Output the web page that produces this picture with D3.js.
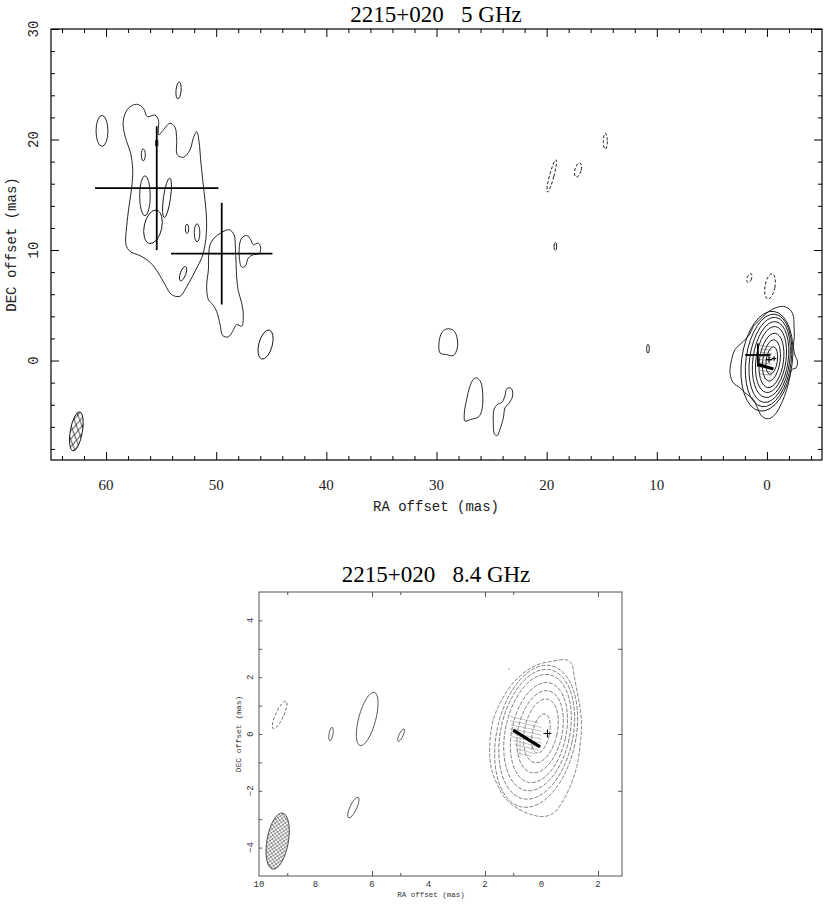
<!DOCTYPE html>
<html><head><meta charset="utf-8">
<script src="https://cdn.jsdelivr.net/npm/d3@7"></script>
<style>body{margin:0;background:#fff}svg{display:block}</style>
</head><body><svg id="c" width="830" height="904"></svg>
<script>
// ================= DATA =================
const topTitle = "2215+020   5 GHz";
const botTitle = "2215+020   8.4 GHz";
const xLabelText = "RA offset (mas)";
const yLabelText = "DEC offset (mas)";

// top panel (5 GHz) axes
const topXMajor = [60, 50, 40, 30, 20, 10, 0];
const topXMinor = [64,62,58,56,54,52,48,46,44,42,38,36,34,32,28,26,24,22,18,16,14,12,8,6,4,2,-2,-4];
const topYMajor = [0, 10, 20, 30];
const topYMinor = [-8,-6,-4,-2,2,4,6,8,12,14,16,18,22,24,26,28];

// bottom panel (8.4 GHz) axes
const botXLabels = [10, 8, 6, 4, 2, 0, -2];
const botXLabelText = ["10", "8", "6", "4", "2", "0", "2"];
const botXMajor = [6, 2, -2];
const botXMinor = [9, 5, 1];
const botYLabels = [4, 2, 0, -2, -4];
const botYLabelText = ["4", "2", "0", "\u22122", "\u22124"];
const botYTicksLeft = [4, 3, 2, 1, 0, -1, -2, -3, -4];
const botYTicksRight = [3, 0, -2];

// --- 5 GHz contours: closed outlines [RA, DEC] in mas ---
const topCluster1 = [[58.43,21.77],[57.98,22.83],[57.22,23.19],[56.62,22.83],[56.25,22.07],[55.56,22.22],[55.25,21.77],[55.22,20.42],[54.80,20.87],[54.20,21.47],[53.74,21.11],[53.59,19.97],[53.53,18.61],[52.98,18.40],[52.38,19.06],[52.08,20.12],[51.77,20.72],[51.56,19.82],[51.41,18.16],[51.23,16.35],[50.99,14.25],[50.87,12.44],[50.99,10.63],[51.32,9.28],[51.77,8.37],[52.23,7.47],[52.74,6.57],[53.29,5.81],[54.04,5.96],[54.65,6.87],[55.25,7.92],[56.01,8.89],[56.92,9.49],[57.83,9.88],[58.19,10.48],[58.13,12.14],[57.92,13.94],[57.68,15.60],[57.58,17.26],[57.77,18.76],[58.13,19.82],[58.37,20.72]];
const topCluster2 = [[50.56,10.48],[50.20,11.08],[49.59,11.54],[48.81,11.84],[48.38,11.38],[48.26,10.18],[48.20,8.83],[48.14,7.47],[47.99,6.27],[47.69,5.21],[47.54,4.01],[47.69,3.10],[48.14,3.25],[48.50,2.65],[48.90,2.14],[49.41,2.26],[49.65,3.25],[49.96,4.46],[50.32,5.06],[50.71,5.51],[50.87,6.72],[50.71,8.22],[50.68,9.58]];
const topSideLoop = [[47.90,10.33],[47.69,11.08],[47.23,11.32],[46.87,10.93],[46.63,10.48],[46.17,10.63],[45.96,10.18],[46.11,9.67],[46.63,9.58],[47.08,9.28],[47.38,8.52],[47.69,8.46],[47.90,9.28]];
const topBlobA = [[29.53,2.50],[29.08,2.86],[28.47,2.74],[28.17,2.20],[28.11,1.14],[28.47,0.45],[29.08,0.54],[29.68,0.69],[29.77,1.60]];
const topBlobB = [[26.35,-1.57],[25.99,-1.93],[25.81,-2.92],[25.87,-4.43],[26.17,-5.09],[26.90,-5.33],[27.41,-5.48],[27.47,-4.73],[27.26,-3.52],[26.96,-2.32],[26.66,-1.72]];
const topBlobC = [[23.48,-2.47],[23.18,-2.56],[23.09,-3.22],[23.39,-3.83],[23.78,-4.28],[23.93,-5.18],[24.24,-6.23],[24.48,-6.78],[24.72,-6.69],[24.84,-5.63],[24.78,-4.43],[24.48,-3.98],[24.05,-3.77],[23.78,-3.16],[23.66,-2.62]];
const topCoreOuter = [[0.78,3.55],[0.02,4.30],[-0.74,4.75],[-1.49,4.90],[-2.10,4.60],[-2.40,4.00],[-2.46,3.10],[-2.49,2.19],[-2.40,1.29],[-2.58,0.39],[-2.77,-0.06],[-2.64,-0.67],[-2.25,-0.82],[-2.10,-1.42],[-1.80,-2.62],[-1.34,-3.83],[-0.74,-4.88],[-0.13,-5.27],[0.47,-5.03],[0.93,-4.13],[1.23,-3.53],[1.99,-2.92],[2.44,-2.47],[3.05,-2.02],[3.35,-1.12],[3.20,0.09],[2.90,0.99],[2.14,1.74],[1.59,2.34],[1.23,3.10]];

// ellipse contours [RA, DEC, semi-axis RA, semi-axis DEC, tilt deg]
const topEllSolid = [[60.37,20.78,0.54,1.40,0],[53.42,24.44,0.23,0.77,5],[56.62,18.61,0.18,0.54,0],[56.47,14.91,0.48,1.81,0],[54.47,14.72,0.32,1.81,8],[55.74,12.10,0.80,1.54,12],[52.65,11.92,0.15,0.42,0],[51.74,11.56,0.25,0.81,0],[53.01,7.86,0.25,0.68,20],[45.52,1.45,0.61,1.36,15],[55.40,19.67,0.12,0.35,0],[19.21,10.33,0.12,0.36,0],[10.80,1.08,0.12,0.40,0]];
const topEllDashed = [[14.67,19.84,0.18,0.72,0],[17.15,17.25,0.28,0.66,15],[19.54,16.71,0.20,1.50,15],[1.59,7.46,0.20,0.42,20],[-0.28,6.71,0.45,1.15,10]];
const topCoreNested = [[-0.44,0.00,0.51,1.25,8],[-0.41,0.01,0.79,1.88,8],[-0.41,0.01,1.09,2.48,8],[-0.37,0.09,1.36,3.01,8],[-0.33,0.09,1.60,3.46,8],[-0.25,0.06,1.82,3.88,8],[-0.15,0.01,2.05,4.22,8],[0.00,-0.06,2.30,4.55,8]];
const topBeam = [62.70,-6.41,0.55,1.80,10];

// model-fit components [RA, DEC, RA err, DEC err]
const topComps = [[55.4,15.6,5.6,5.6],[49.5,9.67,4.6,4.6],[0.82,0.50,1.15,1.05]];
const topSmallCross = [[-0.19,0.09,0.30],[-0.65,0.18,0.20]];
const topThick = [[0.78,-0.37,-0.59,-0.76]];
const topHatch = [[0.62,1.35,-0.44,1.23],[0.62,1.05,-0.44,0.93],[0.62,0.75,-0.44,0.63],[0.62,0.39,-0.44,0.27],[0.62,0.09,-0.44,-0.03],[0.62,-0.21,-0.44,-0.33],[0.62,-0.58,-0.44,-0.70],[0.62,-0.91,-0.44,-1.03],[0.62,-1.21,-0.44,-1.33]];

// --- 8.4 GHz contours ---
const botCoreOuter = [[0.17,2.43],[-0.42,2.57],[-0.89,2.61],[-1.07,2.46],[-1.15,2.08],[-1.25,1.55],[-1.36,0.96],[-1.42,0.26],[-1.36,-0.45],[-1.25,-1.15],[-1.01,-1.85],[-0.71,-2.44],[-0.42,-2.79],[-0.06,-2.91],[0.41,-2.82],[0.94,-2.56],[1.33,-2.21],[1.53,-1.85],[1.73,-1.38],[1.82,-0.92],[1.82,-0.21],[1.71,0.49],[1.47,1.08],[1.11,1.67],[0.64,2.14]];
const botCoreNested = [[0.02,0.02,0.30,0.70,12],[0.02,0.11,0.58,1.14,12],[0.05,0.08,0.78,1.47,12],[0.09,0.05,0.96,1.79,12],[0.14,0.05,1.14,2.08,12],[0.17,-0.01,1.28,2.32,12],[0.19,-0.08,1.40,2.54,12]];
const botEllSolid = [[7.45,0.00,0.07,0.24,10],[6.17,0.53,0.30,0.97,15],[4.97,-0.04,0.07,0.24,25],[6.66,-2.59,0.12,0.40,25]];
const botEllDashed = [[9.27,0.67,0.14,0.53,25]];
const botBeam = [9.34,-3.77,0.38,1.00,10];
const botCross = [[-0.21,0.02,0.14]];
const botThick = [[1.00,0.14,0.05,-0.45]];
const botHatch = [[1.11,0.61,0.10,0.39],[1.11,0.47,0.00,0.23],[1.11,0.33,-0.01,0.10],[1.11,0.19,-0.01,-0.04],[1.11,0.05,-0.01,-0.18],[1.05,-0.09,-0.01,-0.32],[1.00,-0.23,0.00,-0.46],[0.95,-0.37,0.10,-0.57],[0.90,-0.52,0.20,-0.70],[0.85,-0.66,0.35,-0.80],[0.76,-0.09,0.76,-0.80],[0.35,-0.04,0.35,-0.56]];
const botTinyMark = [[1.17,2.31,1.15,2.27]];

// ================= DRAW =================
const svg = d3.select("#c");
const TX = d3.scaleLinear().domain([65, -5]).range([51, 822]);
const TY = d3.scaleLinear().domain([-9, 30]).range([460, 29]);
const BX = d3.scaleLinear().domain([10, -2.85]).range([259, 622]);
const BY = d3.scaleLinear().domain([-5, 5]).range([876, 592]);

const defs = svg.append("defs");
function hatchPattern(id, w, h, sw, col) {
  const p = defs.append("pattern").attr("id", id).attr("patternUnits", "userSpaceOnUse")
    .attr("width", w).attr("height", h);
  p.append("path").attr("d", `M0,0L${w},${h}M${w},0L0,${h}M${-w},0L${w},${2*h}`)
    .attr("stroke", col).attr("stroke-width", sw).attr("fill", "none");
}
hatchPattern("hatchTop", 6, 10, 0.8, "#111");
hatchPattern("hatchBot", 4, 4, 0.55, "#333");

function lineGen(sx, sy) {
  return d3.line().x(d => sx(d[0])).y(d => sy(d[1])).curve(d3.curveCatmullRomClosed.alpha(0.5));
}
function drawOutlines(g, sx, sy, list, stroke, sw, dash) {
  g.selectAll(null).data(list).join("path")
    .attr("d", lineGen(sx, sy)).attr("fill", "none")
    .attr("stroke", stroke).attr("stroke-width", sw)
    .attr("stroke-dasharray", dash || null);
}
function drawEllipses(g, sx, sy, list, stroke, sw, dash, fill) {
  g.selectAll(null).data(list).join("ellipse")
    .attr("cx", d => sx(d[0])).attr("cy", d => sy(d[1]))
    .attr("rx", d => Math.abs(sx(d[0] + d[2]) - sx(d[0])))
    .attr("ry", d => Math.abs(sy(d[1] + d[3]) - sy(d[1])))
    .attr("transform", d => `rotate(${d[4] || 0},${sx(d[0])},${sy(d[1])})`)
    .attr("fill", fill || "none").attr("stroke", stroke).attr("stroke-width", sw)
    .attr("stroke-dasharray", dash || null);
}
function drawSegs(g, sx, sy, list, stroke, sw) {
  g.selectAll(null).data(list).join("line")
    .attr("x1", d => sx(d[0])).attr("y1", d => sy(d[1]))
    .attr("x2", d => sx(d[2])).attr("y2", d => sy(d[3]))
    .attr("stroke", stroke).attr("stroke-width", sw).attr("stroke-linecap", "butt");
}
function drawCrosses(g, sx, sy, list, stroke, sw) {
  const segs = [];
  list.forEach(d => {
    const ex = d[2], ey = d.length > 3 ? d[3] : d[2];
    segs.push([d[0] - ex, d[1], d[0] + ex, d[1]]);
    segs.push([d[0], d[1] - ey, d[0], d[1] + ey]);
  });
  drawSegs(g, sx, sy, segs, stroke, sw);
}
function tickAxis(g, axisFn, scale, values, size, tr, col, sw) {
  g.append("g").attr("transform", tr).attr("color", col)
    .call(axisFn(scale).tickValues(values).tickSize(size).tickFormat(""))
    .call(s => s.select(".domain").remove())
    .call(s => s.selectAll("line").attr("stroke-width", sw));
}

// ---------- TOP PANEL ----------
const gt = svg.append("g");
gt.append("text").attr("x", 436).attr("y", 22).attr("text-anchor", "middle")
  .attr("font-family", "Liberation Serif, Times New Roman, serif").attr("font-size", 23)
  .attr("xml:space", "preserve").style("white-space", "pre").text(topTitle);

drawOutlines(gt, TX, TY, [topCluster1, topCluster2, topSideLoop, topBlobA, topBlobB, topBlobC, topCoreOuter], "#111", 0.9);
drawEllipses(gt, TX, TY, topEllSolid, "#111", 0.9);
drawEllipses(gt, TX, TY, topEllDashed, "#111", 0.9, "3,2");
drawEllipses(gt, TX, TY, topCoreNested, "#111", 0.9);
drawEllipses(gt, TX, TY, [topBeam], "#111", 0.9, null, "url(#hatchTop)");
drawSegs(gt, TX, TY, topHatch, "#666", 0.6);
drawCrosses(gt, TX, TY, topComps, "#000", 1.8);
drawCrosses(gt, TX, TY, topSmallCross, "#000", 1.2);
drawSegs(gt, TX, TY, topThick, "#000", 3.2);

gt.append("rect").attr("x", TX(65)).attr("y", TY(30))
  .attr("width", TX(-5) - TX(65)).attr("height", TY(-9) - TY(30))
  .attr("fill", "none").attr("stroke", "#000").attr("stroke-width", 1.2);
tickAxis(gt, d3.axisBottom, TX, topXMajor, -8, `translate(0,${TY(-9)})`, "#000", 1);
tickAxis(gt, d3.axisBottom, TX, topXMinor, -4, `translate(0,${TY(-9)})`, "#000", 1);
tickAxis(gt, d3.axisTop, TX, topXMajor, -8, `translate(0,${TY(30)})`, "#000", 1);
tickAxis(gt, d3.axisTop, TX, topXMinor, -4, `translate(0,${TY(30)})`, "#000", 1);
tickAxis(gt, d3.axisLeft, TY, topYMajor, -8, `translate(${TX(65)},0)`, "#000", 1);
tickAxis(gt, d3.axisLeft, TY, topYMinor, -4, `translate(${TX(65)},0)`, "#000", 1);
tickAxis(gt, d3.axisRight, TY, topYMajor, -8, `translate(${TX(-5)},0)`, "#000", 1);
tickAxis(gt, d3.axisRight, TY, topYMinor, -4, `translate(${TX(-5)},0)`, "#000", 1);

gt.selectAll(null).data(topXMajor).join("text")
  .attr("x", d => TX(d)).attr("y", 490).attr("text-anchor", "middle")
  .attr("font-family", "Liberation Serif, serif").attr("font-size", 15).attr("fill", "#222")
  .text(d => d);
gt.selectAll(null).data(topYMajor).join("text")
  .attr("transform", d => `translate(38,${TY(d)}) rotate(-90)`).attr("text-anchor", "middle")
  .attr("font-family", "Liberation Mono, monospace").attr("font-size", 14).attr("fill", "#222")
  .text(d => d);
gt.append("text").attr("x", 436).attr("y", 511).attr("text-anchor", "middle")
  .attr("font-family", "Liberation Mono, monospace").attr("font-size", 14).attr("fill", "#222")
  .text(xLabelText);
gt.append("text").attr("transform", `translate(16,${(TY(30) + TY(-9)) / 2}) rotate(-90)`)
  .attr("text-anchor", "middle")
  .attr("font-family", "Liberation Mono, monospace").attr("font-size", 14).attr("fill", "#222")
  .text(yLabelText);

// ---------- BOTTOM PANEL ----------
const gb = svg.append("g");
gb.append("text").attr("x", 436).attr("y", 582).attr("text-anchor", "middle")
  .attr("font-family", "Liberation Serif, Times New Roman, serif").attr("font-size", 23)
  .attr("xml:space", "preserve").style("white-space", "pre").text(botTitle);

drawOutlines(gb, BX, BY, [botCoreOuter], "#555", 0.7, "4,1.5");
drawEllipses(gb, BX, BY, botCoreNested, "#555", 0.7, "4,1.5");
drawEllipses(gb, BX, BY, botEllSolid, "#444", 0.8);
drawEllipses(gb, BX, BY, botEllDashed, "#555", 0.8, "3,2");
drawEllipses(gb, BX, BY, [botBeam], "#333", 0.8, null, "url(#hatchBot)");
drawSegs(gb, BX, BY, botHatch, "#999", 0.6);
drawSegs(gb, BX, BY, botTinyMark, "#444", 0.8);
drawCrosses(gb, BX, BY, botCross, "#000", 1);
drawSegs(gb, BX, BY, botThick, "#000", 3.2);

gb.append("rect").attr("x", BX(10)).attr("y", BY(5))
  .attr("width", BX(-2.85) - BX(10)).attr("height", BY(-5) - BY(5))
  .attr("fill", "none").attr("stroke", "#555").attr("stroke-width", 1);
tickAxis(gb, d3.axisBottom, BX, botXMajor, -5, `translate(0,${BY(-5)})`, "#555", 1);
tickAxis(gb, d3.axisBottom, BX, botXMinor, -3, `translate(0,${BY(-5)})`, "#555", 1);
tickAxis(gb, d3.axisTop, BX, botXMajor, -5, `translate(0,${BY(5)})`, "#555", 1);
tickAxis(gb, d3.axisTop, BX, botXMinor, -3, `translate(0,${BY(5)})`, "#555", 1);
tickAxis(gb, d3.axisLeft, BY, botYTicksLeft, -3, `translate(${BX(10)},0)`, "#555", 1);
tickAxis(gb, d3.axisRight, BY, botYTicksRight, -4, `translate(${BX(-2.85)},0)`, "#555", 1);

gb.selectAll(null).data(botXLabels).join("text")
  .attr("x", d => BX(d)).attr("y", 887).attr("text-anchor", "middle")
  .attr("font-family", "Liberation Mono, monospace").attr("font-size", 9).attr("fill", "#333")
  .text((d, i) => botXLabelText[i]);
gb.selectAll(null).data(botYLabels).join("text")
  .attr("transform", d => `translate(253,${BY(d)}) rotate(-90)`).attr("text-anchor", "middle")
  .attr("font-family", "Liberation Mono, monospace").attr("font-size", 9).attr("fill", "#333")
  .text((d, i) => botYLabelText[i]);
gb.append("text").attr("x", 431).attr("y", 897).attr("text-anchor", "middle")
  .attr("font-family", "Liberation Mono, monospace").attr("font-size", 7.5).attr("fill", "#333")
  .text(xLabelText);
gb.append("text").attr("transform", `translate(241,${BY(0)}) rotate(-90)`).attr("text-anchor", "middle")
  .attr("font-family", "Liberation Mono, monospace").attr("font-size", 8).attr("fill", "#333")
  .text(yLabelText);
</script></body></html>
